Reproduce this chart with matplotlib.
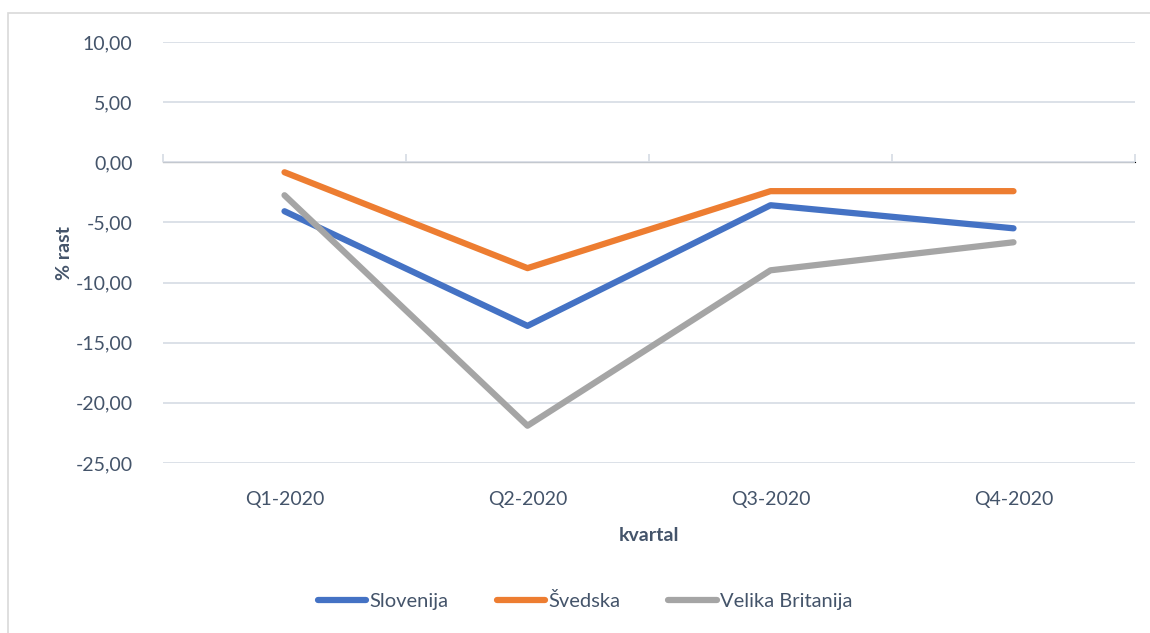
import numpy as np
import matplotlib
matplotlib.use('Agg')
import matplotlib.pyplot as plt
from matplotlib.patches import Rectangle

plt.rcParams['font.family'] = ['Lato', 'DejaVu Sans']

kvartali = ['Q1-2020', 'Q2-2020', 'Q3-2020', 'Q4-2020']
slovenija = [-4.07, -13.6, -3.57, -5.49]
svedska = [-0.83, -8.8, -2.4, -2.4]
velika_britanija = [-2.74, -21.9, -8.98, -6.65]
y_ticks = [10, 5, 0, -5, -10, -15, -20, -25]

txt = '#44546A'
grid = '#D9DEE6'

fig = plt.figure(figsize=(11.5, 6.33), dpi=100)
ax = fig.add_axes([163/1150, 1-463/633, (1135-163)/1150, (463-42)/633])

x = np.arange(len(kvartali))
ax.plot(x, slovenija, color='#4472C4', lw=4.5, solid_capstyle='round', solid_joinstyle='round', label='Slovenija')
ax.plot(x, svedska, color='#ED7D31', lw=4.5, solid_capstyle='round', solid_joinstyle='round', label='Švedska')
ax.plot(x, velika_britanija, color='#A5A5A5', lw=4.5, solid_capstyle='round', solid_joinstyle='round', label='Velika Britanija')

ax.set_xlim(-0.5, len(kvartali) - 0.5)
ax.set_ylim(-25, 10)
ax.set_yticks(y_ticks)
ax.set_yticklabels([('%.2f' % v).replace('.', ',') for v in y_ticks])
ax.set_xticks(x)
ax.set_xticklabels(kvartali)
ax.tick_params(length=0, labelsize=14, labelcolor=txt)
ax.tick_params(axis='y', pad=22)
ax.tick_params(axis='x', pad=20)
ax.grid(axis='y', color=grid, lw=1.3)
ax.set_axisbelow(True)
for s in ax.spines.values():
    s.set_visible(False)

# category axis crossing at zero, ticks between categories
sec = ax.secondary_xaxis(25/35)
sec.set_xticks(np.arange(-0.5, len(kvartali), 1.0))
sec.set_xticklabels([])
sec.tick_params(direction='out', length=6, color=grid, width=1.3)
sec.spines['bottom'].set_color(grid)
sec.spines['bottom'].set_linewidth(1.3)

ax.set_ylabel('% rast', fontsize=14, fontweight='bold', color=txt, labelpad=2)
ax.set_xlabel('kvartal', fontsize=14, fontweight='bold', color=txt, labelpad=14)

fig.legend(loc='center', bbox_to_anchor=(585/1150, 1-601/633), ncol=3, frameon=False,
           fontsize=14.5, labelcolor=txt, handlelength=2.4, handletextpad=0.15, columnspacing=2.4)

fig.patches.append(Rectangle((8/1150, -0.01), 1.0, 1-13/633+0.01, transform=fig.transFigure,
                             fill=False, edgecolor='#D9D9D9', lw=1.2))

fig.savefig('out.png', dpi=100, facecolor='white')
